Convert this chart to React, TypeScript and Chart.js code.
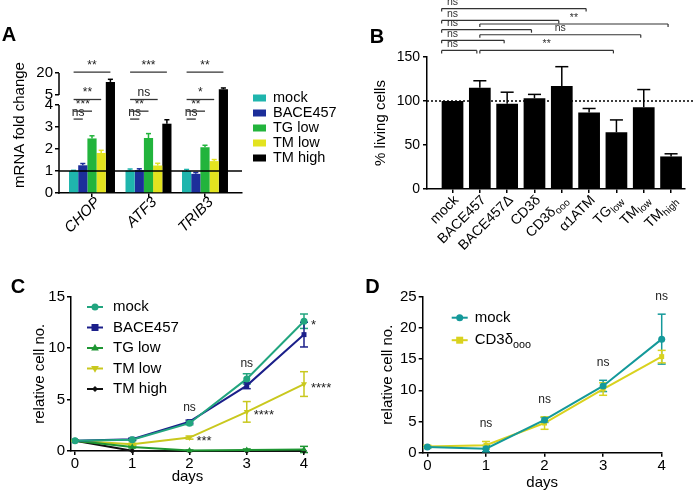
import React, { useEffect, useRef } from 'react';
import { Chart, registerables, LinearScale } from 'chart.js';

Chart.register(...registerables);

// ---------------- data ----------------
// Panel A
const aGenes = ['CHOP', 'ATF3', 'TRIB3'];
const aSeries = ['mock', 'BACE457', 'TG low', 'TM low', 'TM high'];
const aMock = [1.0, 1.02, 1.0];
const aBace = [1.26, 1.04, 0.87];
const aTgLow = [2.48, 2.5, 2.08];
const aTmLow = [1.82, 1.25, 1.45];
const aTmHigh = [13.9, 3.15, 8.9];
const aMockErr = [0.03, 0.07, 0.07];
const aBaceErr = [0.08, 0.06, 0.06];
const aTgLowErr = [0.12, 0.2, 0.09];
const aTmLowErr = [0.12, 0.1, 0.07];
const aTmHighErr = [1.8, 0.18, 0.9];
const aTicks = [0, 1, 2, 3, 4, 5, 20];
const aSigLabels = [
  ['ns', '***', '**', '**'],
  ['ns', '**', 'ns', '***'],
  ['ns', '**', '*', '**'],
];
const aSigLevels = [3.36, 3.72, 4.55, 20.6];

// Panel B
const bCategories = ['mock', 'BACE457', 'BACE457Δ', 'CD3δ', 'CD3δ_ooo', 'α1ATM', 'TG_low', 'TM_low', 'TM_high'];
const bValues = [100, 115, 97, 103, 117, 87, 64.5, 93, 37];
const bErrors = [0, 8, 13, 4.5, 22, 4.5, 14, 20, 3];
const bPairs = [[0, 1], [0, 2], [0, 3], [0, 4], [0, 5], [1, 6], [1, 7], [1, 8]];
const bPairLabels = ['ns', 'ns', 'ns', 'ns', 'ns', '**', 'ns', '**'];
const bPairLevels = [157.5, 169, 181, 191.6, 205, 157.5, 175.3, 187.5];

// Panel C
const days = [0, 1, 2, 3, 4];
const cSeries = ['mock', 'BACE457', 'TG low', 'TM low', 'TM high'];
const cMock = [1.0, 1.1, 2.7, 7.0, 12.6];
const cBace = [1.0, 1.15, 2.85, 6.35, 11.3];
const cTgLow = [1.0, 0.4, 0.05, 0.1, 0.15];
const cTmLow = [1.0, 0.65, 1.3, 3.8, 6.5];
const cTmHigh = [1.0, 0.02, 0.0, 0.0, 0.0];
const cMockErr = [0.05, 0.1, 0.15, 0.5, 0.7];
const cBaceErr = [0.05, 0.1, 0.15, 0.3, 1.2];
const cTgLowErr = [0.05, 0.1, 0.05, 0.1, 0.3];
const cTmLowErr = [0.05, 0.1, 0.15, 1.0, 1.2];
const cTmHighErr = [0, 0, 0, 0, 0];
const cSigText = ['ns', 'ns', '*', '****', '****', '***'];
const cSigSeries = [0, 0, 0, 3, 3, 3];
const cSigDay = [2, 3, 4, 4, 3, 2];
const cSigSide = ['above', 'above', 'right', 'right', 'right', 'right'];

// Panel D
const dSeries = ['mock', 'CD3δ_ooo'];
const dMock = [0.9, 0.65, 5.25, 10.7, 18.2];
const dCd3 = [1.0, 1.2, 4.75, 10.2, 15.4];
const dMockErr = [0.2, 0.5, 0.4, 0.9, 4.0];
const dCd3Err = [0.2, 0.6, 1.0, 1.0, 1.0];
const dSigText = ['ns', 'ns', 'ns', 'ns'];
const dSigDay = [1, 2, 3, 4];

// ---------------- styles ----------------
const FAMILY = "'Liberation Sans', Arial, Helvetica, sans-serif";
Chart.defaults.font.family = FAMILY;
Chart.defaults.color = '#000';

const A_COLORS = ['#1fb5ad', '#1c2e9a', '#22b43c', '#e3e31f', '#000000'];
const C_COLORS = ['#22a57f', '#1b1f8a', '#1e9633', '#c9c81e', '#111111'];
const C_POINTS = ['circle', 'rect', 'triangle', 'triangle', 'rectRot'];
const C_ROT = [0, 0, 0, 180, 0];
const C_LEGEND_MARK = ['circle', 'rect', 'triangle', 'triangleDown', 'rectRot'];
const D_COLORS = ['#14999a', '#d9d21e'];
const D_POINTS = ['circle', 'rect'];

// ---------------- broken axis scale (panel A) ----------------
const LOW_FRAC = 88 / 120;
const GAP_FRAC = 10 / 120;
function brokenDecimal(v: number) {
  if (v <= 4) return (v / 4) * LOW_FRAC;
  if (v <= 5) return LOW_FRAC + (v - 4) * GAP_FRAC;
  return LOW_FRAC + GAP_FRAC + ((v - 5) / 15) * (1 - LOW_FRAC - GAP_FRAC);
}
function brokenValue(d: number) {
  if (d <= LOW_FRAC) return (d / LOW_FRAC) * 4;
  if (d <= LOW_FRAC + GAP_FRAC) return 4 + (d - LOW_FRAC) / GAP_FRAC;
  return 5 + ((d - LOW_FRAC - GAP_FRAC) / (1 - LOW_FRAC - GAP_FRAC)) * 15;
}
class BrokenScale extends LinearScale {
  static id = 'broken';
  static defaults = {};
  getPixelForValue(value: number) {
    return this.getPixelForDecimal(brokenDecimal(value));
  }
  getValueForPixel(pixel: number) {
    return brokenValue(this.getDecimalForPixel(pixel));
  }
}
Chart.register(BrokenScale as any);

// ---------------- helpers ----------------
function fontStr(size: number, weight = 'normal', style = 'normal') {
  return `${style} ${weight} ${size}px ${FAMILY}`;
}
function seg(ctx: CanvasRenderingContext2D, x1: number, y1: number, x2: number, y2: number) {
  ctx.beginPath();
  ctx.moveTo(x1, y1);
  ctx.lineTo(x2, y2);
  ctx.stroke();
}
function drawRich(ctx: CanvasRenderingContext2D, s: string, x: number, y: number, size: number, align: string, style = 'normal') {
  const [base, sub] = s.split('_');
  const subSize = size * 0.72;
  ctx.font = fontStr(size, 'normal', style);
  const wb = ctx.measureText(base).width;
  let ws = 0;
  if (sub) {
    ctx.font = fontStr(subSize, 'normal', style);
    ws = ctx.measureText(sub).width;
  }
  const total = wb + ws;
  const x0 = align === 'right' ? x - total : align === 'center' ? x - total / 2 : x;
  ctx.textAlign = 'left';
  ctx.font = fontStr(size, 'normal', style);
  ctx.fillText(base, x0, y);
  if (sub) {
    ctx.font = fontStr(subSize, 'normal', style);
    ctx.fillText(sub, x0 + wb, y + size * 0.3);
  }
}
function drawRotatedLabels(chart: any, labels: string[], size: number, style: string, dx: number, dy: number) {
  const { ctx, chartArea: ca } = chart;
  const xs = chart.scales.x;
  ctx.save();
  ctx.fillStyle = '#000';
  labels.forEach((lab, i) => {
    const x = xs.getPixelForValue(i);
    ctx.save();
    ctx.translate(x + dx, ca.bottom + dy);
    ctx.rotate(-Math.PI / 4);
    ctx.textBaseline = 'middle';
    drawRich(ctx, lab, 0, 0, size, 'right', style);
    ctx.restore();
  });
  ctx.restore();
}
function drawMarker(ctx: CanvasRenderingContext2D, style: string, x: number, y: number, r: number, color: string) {
  ctx.save();
  ctx.fillStyle = color;
  ctx.beginPath();
  if (style === 'circle') ctx.arc(x, y, r, 0, Math.PI * 2);
  else if (style === 'rect') ctx.rect(x - r, y - r, 2 * r, 2 * r);
  else if (style === 'triangle') {
    ctx.moveTo(x, y - r * 1.2);
    ctx.lineTo(x + r * 1.1, y + r * 0.7);
    ctx.lineTo(x - r * 1.1, y + r * 0.7);
    ctx.closePath();
  } else if (style === 'triangleDown') {
    ctx.moveTo(x, y + r * 1.2);
    ctx.lineTo(x + r * 1.1, y - r * 0.7);
    ctx.lineTo(x - r * 1.1, y - r * 0.7);
    ctx.closePath();
  } else {
    ctx.moveTo(x, y - r);
    ctx.lineTo(x + r, y);
    ctx.lineTo(x, y + r);
    ctx.lineTo(x - r, y);
    ctx.closePath();
  }
  ctx.fill();
  ctx.restore();
}
function drawErrors(chart: any, upOnly: boolean, capFrac: number, capPx: number) {
  const { ctx } = chart;
  const ys = chart.scales.y;
  chart.data.datasets.forEach((ds: any, i: number) => {
    if (!ds.errors) return;
    const meta = chart.getDatasetMeta(i);
    ctx.save();
    ctx.strokeStyle = ds.errorColor;
    ctx.lineWidth = 1.5;
    meta.data.forEach((el: any, j: number) => {
      const e = ds.errors[j];
      if (!e) return;
      const v = ds.data[j].y;
      const top = ys.getPixelForValue(v + e);
      const bottom = upOnly ? el.y : ys.getPixelForValue(Math.max(v - e, -0.3));
      const half = (capFrac ? el.width * capFrac : capPx) / 2;
      seg(ctx, el.x, bottom, el.x, top);
      seg(ctx, el.x - half, top, el.x + half, top);
      if (!upOnly) seg(ctx, el.x - half, bottom, el.x + half, bottom);
    });
    ctx.restore();
  });
}
function panelLetter(ctx: CanvasRenderingContext2D, s: string, x: number, y: number) {
  ctx.save();
  ctx.fillStyle = '#000';
  ctx.font = fontStr(20, 'bold');
  ctx.textAlign = 'center';
  ctx.textBaseline = 'middle';
  ctx.fillText(s, x, y);
  ctx.restore();
}
const axisGrid = () => ({ display: true, drawOnChartArea: false, drawTicks: true, tickLength: 4, color: '#000', lineWidth: 1.5, offset: false });
const axisBorder = () => ({ display: true, color: '#000', width: 1.5 });
const baseOptions = (padding: any) => ({
  responsive: false,
  animation: false,
  devicePixelRatio: 1,
  events: [],
  layout: { padding },
  plugins: { legend: { display: false }, tooltip: { enabled: false } },
});

// ---------------- Panel A ----------------
const aValues = [aMock, aBace, aTgLow, aTmLow, aTmHigh];
const aErrors = [aMockErr, aBaceErr, aTgLowErr, aTmLowErr, aTmHighErr];

const aPlugin = {
  id: 'aExtras',
  beforeDatasetsDraw(chart: any) {
    drawErrors(chart, true, 0.55, 0);
  },
  afterDraw(chart: any) {
    const { ctx, chartArea: ca } = chart;
    const ys = chart.scales.y;
    ctx.save();
    ctx.strokeStyle = '#000';
    ctx.lineWidth = 1.5;
    // broken y axis
    seg(ctx, ca.left, ys.getPixelForValue(0) + 0.75, ca.left, ys.getPixelForValue(4));
    seg(ctx, ca.left, ys.getPixelForValue(5), ca.left, ys.getPixelForValue(20));
    // reference line at 1
    seg(ctx, ca.left, ys.getPixelForValue(1), ca.right, ys.getPixelForValue(1));
    // brackets
    ctx.strokeStyle = '#333';
    ctx.lineWidth = 1.3;
    ctx.fillStyle = '#222';
    ctx.font = fontStr(12);
    ctx.textAlign = 'center';
    ctx.textBaseline = 'bottom';
    aGenes.forEach((_, gi) => {
      const x0 = chart.getDatasetMeta(0).data[gi].x;
      for (let k = 1; k < aSeries.length; k++) {
        const x1 = chart.getDatasetMeta(k).data[gi].x;
        const yy = ys.getPixelForValue(aSigLevels[k - 1]);
        seg(ctx, x0, yy, x1, yy);
        ctx.fillText(aSigLabels[gi][k - 1], (x0 + x1) / 2, yy - 0.5);
      }
    });
    // y title
    ctx.save();
    ctx.translate(20, 125);
    ctx.rotate(-Math.PI / 2);
    ctx.fillStyle = '#000';
    ctx.font = fontStr(15);
    ctx.textAlign = 'center';
    ctx.textBaseline = 'middle';
    ctx.fillText('mRNA fold change', 0, 0);
    ctx.restore();
    // legend
    ctx.textAlign = 'left';
    ctx.textBaseline = 'middle';
    aSeries.forEach((name, k) => {
      const y = ca.top + 25 + k * 15;
      ctx.fillStyle = A_COLORS[k];
      ctx.fillRect(ca.right + 11, y - 3.5, 13, 7);
      ctx.fillStyle = '#000';
      ctx.font = fontStr(14.5);
      ctx.fillText(name, ca.right + 31, y);
    });
    ctx.restore();
    // italic rotated gene labels
    drawRotatedLabels(chart, aGenes, 15, 'italic', 6, 7);
    panelLetter(ctx, 'A', 9, 35);
  },
};

function makeA(canvas: HTMLCanvasElement) {
  return new Chart(canvas, {
    type: 'bar',
    data: {
      datasets: aSeries.map((name, k) => ({
        label: name,
        data: aGenes.map((_, i) => ({ x: i, y: aValues[k][i] })),
        backgroundColor: A_COLORS[k],
        borderWidth: 0,
        barPercentage: 1,
        categoryPercentage: 0.814,
        errors: aErrors[k],
        errorColor: A_COLORS[k],
      })),
    } as any,
    options: {
      ...baseOptions({ left: 0, top: 73, right: 451, bottom: 0 }),
      scales: {
        x: {
          type: 'linear',
          min: -0.584,
          max: 2.655,
          offset: false,
          afterBuildTicks: (s: any) => { s.ticks = aGenes.map((_, i) => ({ value: i })); },
          afterFit: (s: any) => { s.height = 300; },
          ticks: { display: false },
          grid: axisGrid(),
          border: axisBorder(),
        },
        y: {
          type: 'broken',
          min: 0,
          max: 20,
          afterBuildTicks: (s: any) => { s.ticks = aTicks.map((v) => ({ value: v })); },
          afterFit: (s: any) => { s.width = 59; },
          ticks: { autoSkip: false, padding: 2, font: { size: 15 }, callback: (v: any) => String(v) },
          grid: axisGrid(),
          border: { display: false },
        },
      },
    } as any,
    plugins: [aPlugin],
  });
}

// ---------------- Panel B ----------------
const bPlugin = {
  id: 'bExtras',
  beforeDatasetsDraw(chart: any) {
    drawErrors(chart, true, 0.6, 0);
  },
  afterDraw(chart: any) {
    const { ctx, chartArea: ca } = chart;
    const ys = chart.scales.y;
    ctx.save();
    // dotted 100% line
    ctx.strokeStyle = '#000';
    ctx.lineWidth = 1.5;
    ctx.setLineDash([2, 2]);
    seg(ctx, ca.left, ys.getPixelForValue(100), chart.width, ys.getPixelForValue(100));
    ctx.setLineDash([]);
    // significance brackets
    const meta = chart.getDatasetMeta(0);
    ctx.strokeStyle = '#333';
    ctx.lineWidth = 1.2;
    ctx.fillStyle = '#333';
    ctx.font = fontStr(10.5);
    ctx.textAlign = 'center';
    ctx.textBaseline = 'bottom';
    bPairs.forEach(([a, b], k) => {
      const ea = meta.data[a];
      const eb = meta.data[b];
      const x1 = a === 0 ? ea.x - ea.width / 2 : ea.x;
      const x2 = eb.x - 3;
      const yy = ys.getPixelForValue(bPairLevels[k]);
      seg(ctx, x1, yy, x2, yy);
      seg(ctx, x1, yy, x1, yy + 3);
      seg(ctx, x2, yy, x2, yy + 3);
      const lx = a === 0 ? ea.x : (x1 + x2) / 2;
      ctx.fillText(bPairLabels[k], lx, yy - 1);
    });
    ctx.restore();
    // rotated category labels with subscripts
    drawRotatedLabels(chart, bCategories, 14, 'normal', 4, 9);
    panelLetter(ctx, 'B', 377, 37);
  },
};

function makeB(canvas: HTMLCanvasElement) {
  return new Chart(canvas, {
    type: 'bar',
    data: {
      datasets: [{
        label: '% living cells',
        data: bCategories.map((_, i) => ({ x: i, y: bValues[i] })),
        backgroundColor: '#000',
        borderWidth: 0,
        barPercentage: 0.795,
        categoryPercentage: 1,
        errors: bErrors,
        errorColor: '#000',
      }],
    } as any,
    options: {
      ...baseOptions({ left: 360, top: 57, right: 8, bottom: 0 }),
      scales: {
        x: {
          type: 'linear',
          min: -0.934,
          max: 8.51,
          offset: false,
          afterBuildTicks: (s: any) => { s.ticks = bCategories.map((_, i) => ({ value: i })); },
          afterFit: (s: any) => { s.height = 304; },
          ticks: { display: false },
          grid: axisGrid(),
          border: axisBorder(),
        },
        y: {
          type: 'linear',
          min: 0,
          max: 150,
          afterFit: (s: any) => { s.width = 67; },
          ticks: { stepSize: 50, padding: 3, font: { size: 14 } },
          grid: axisGrid(),
          border: axisBorder(),
          title: { display: true, text: '% living cells', font: { size: 15 }, padding: { top: 12, bottom: 0 } },
        },
      },
    } as any,
    plugins: [bPlugin],
  });
}

// ---------------- Panel C ----------------
const cValues = [cMock, cBace, cTgLow, cTmLow, cTmHigh];
const cErrors = [cMockErr, cBaceErr, cTgLowErr, cTmLowErr, cTmHighErr];

const cPlugin = {
  id: 'cExtras',
  beforeDatasetsDraw(chart: any) {
    drawErrors(chart, false, 0, 8);
  },
  afterDraw(chart: any) {
    const { ctx, chartArea: ca } = chart;
    ctx.save();
    // legend
    cSeries.forEach((name, k) => {
      const y = ca.top + 10.5 + k * 20.5;
      const mx = ca.left + 24;
      ctx.strokeStyle = C_COLORS[k];
      ctx.lineWidth = 2;
      seg(ctx, mx - 8, y, mx + 8, y);
      drawMarker(ctx, C_LEGEND_MARK[k], mx, y, k === 4 ? 3 : 3.5, C_COLORS[k]);
      ctx.fillStyle = '#000';
      ctx.font = fontStr(15);
      ctx.textAlign = 'left';
      ctx.textBaseline = 'middle';
      ctx.fillText(name, ca.left + 42, y);
    });
    // significance labels
    ctx.fillStyle = '#222';
    cSigText.forEach((t, i) => {
      const el = chart.getDatasetMeta(cSigSeries[i]).data[cSigDay[i]];
      ctx.textBaseline = 'alphabetic';
      if (cSigSide[i] === 'above') {
        ctx.font = fontStr(12);
        ctx.textAlign = 'center';
        ctx.fillText(t, el.x, el.y - 12);
      } else {
        ctx.font = fontStr(13);
        ctx.textAlign = 'left';
        ctx.fillText(t, el.x + 7, el.y + 7.5);
      }
    });
    ctx.restore();
    panelLetter(ctx, 'C', 18, 287);
  },
};

function makeC(canvas: HTMLCanvasElement) {
  return new Chart(canvas, {
    type: 'line',
    data: {
      datasets: cSeries.map((name, k) => ({
        label: name,
        data: days.map((d, i) => ({ x: d, y: cValues[k][i] })),
        borderColor: C_COLORS[k],
        backgroundColor: C_COLORS[k],
        borderWidth: 2,
        pointStyle: C_POINTS[k],
        pointRotation: C_ROT[k],
        pointRadius: k === 4 ? 3 : 3.5,
        pointBorderWidth: 0,
        tension: 0,
        clip: false,
        errors: cErrors[k],
        errorColor: C_COLORS[k],
      })),
    } as any,
    options: {
      ...baseOptions({ left: 0, top: 296.5, right: 389, bottom: 0 }),
      scales: {
        x: {
          type: 'linear',
          min: -0.07,
          max: 4,
          afterBuildTicks: (s: any) => { s.ticks = days.map((v) => ({ value: v })); },
          afterFit: (s: any) => { s.height = 42; },
          ticks: { autoSkip: false, maxRotation: 0, padding: 0, font: { size: 15 }, callback: (v: any) => String(v) },
          grid: axisGrid(),
          border: axisBorder(),
          title: { display: true, text: 'days', font: { size: 15 }, padding: { top: 0, bottom: 7 } },
        },
        y: {
          type: 'linear',
          min: 0,
          max: 15,
          afterFit: (s: any) => { s.width = 71; },
          ticks: { stepSize: 5, padding: 2, font: { size: 15 } },
          grid: axisGrid(),
          border: axisBorder(),
          title: { display: true, text: 'relative cell no.', font: { size: 15 }, padding: { top: 31, bottom: 0 } },
        },
      },
    } as any,
    plugins: [cPlugin],
  });
}

// ---------------- Panel D ----------------
const dValues = [dMock, dCd3];
const dErrors = [dMockErr, dCd3Err];

const dPlugin = {
  id: 'dExtras',
  beforeDatasetsDraw(chart: any) {
    drawErrors(chart, false, 0, 8);
  },
  afterDraw(chart: any) {
    const { ctx, chartArea: ca } = chart;
    const ys = chart.scales.y;
    ctx.save();
    // legend
    dSeries.forEach((name, k) => {
      const y = ca.top + 21 + k * 22.5;
      const mx = ca.left + 37;
      ctx.strokeStyle = D_COLORS[k];
      ctx.lineWidth = 2;
      seg(ctx, mx - 8, y, mx + 8, y);
      drawMarker(ctx, D_POINTS[k], mx, y, 3.5, D_COLORS[k]);
      ctx.fillStyle = '#000';
      ctx.textBaseline = 'middle';
      drawRich(ctx, name, ca.left + 52, y, 15, 'left');
    });
    // ns labels above each day
    ctx.fillStyle = '#222';
    ctx.font = fontStr(12);
    ctx.textAlign = 'center';
    ctx.textBaseline = 'alphabetic';
    dSigText.forEach((t, i) => {
      const d = dSigDay[i];
      let top = Infinity;
      let x = 0;
      chart.data.datasets.forEach((ds: any, k: number) => {
        const el = chart.getDatasetMeta(k).data[d];
        x = el.x;
        top = Math.min(top, ys.getPixelForValue(ds.data[d].y + (ds.errors[d] || 0)));
      });
      ctx.fillText(t, x, top - 14);
    });
    ctx.restore();
    panelLetter(ctx, 'D', 372.5, 287);
  },
};

function makeD(canvas: HTMLCanvasElement) {
  return new Chart(canvas, {
    type: 'line',
    data: {
      datasets: dSeries.map((name, k) => ({
        label: name,
        data: days.map((d, i) => ({ x: d, y: dValues[k][i] })),
        borderColor: D_COLORS[k],
        backgroundColor: D_COLORS[k],
        borderWidth: 2,
        pointStyle: D_POINTS[k],
        pointRadius: 3.5,
        pointBorderWidth: 0,
        tension: 0,
        clip: false,
        errors: dErrors[k],
        errorColor: D_COLORS[k],
      })),
    } as any,
    options: {
      ...baseOptions({ left: 345, top: 296.7, right: 31.3, bottom: 0 }),
      scales: {
        x: {
          type: 'linear',
          min: -0.08,
          max: 4,
          afterBuildTicks: (s: any) => { s.ticks = days.map((v) => ({ value: v })); },
          afterFit: (s: any) => { s.height = 40.3; },
          ticks: { autoSkip: false, maxRotation: 0, padding: 0, font: { size: 15 }, callback: (v: any) => String(v) },
          grid: axisGrid(),
          border: axisBorder(),
          title: { display: true, text: 'days', font: { size: 15 }, padding: { top: 0, bottom: 1 } },
        },
        y: {
          type: 'linear',
          min: 0,
          max: 25,
          afterFit: (s: any) => { s.width = 77.7; },
          ticks: { stepSize: 5, padding: 2, font: { size: 15 } },
          grid: axisGrid(),
          border: axisBorder(),
          title: { display: true, text: 'relative cell no.', font: { size: 15 }, padding: { top: 34, bottom: 0 } },
        },
      },
    } as any,
    plugins: [dPlugin],
  });
}

// ---------------- components ----------------
function ChartCanvas({ make }: { make: (c: HTMLCanvasElement) => Chart }) {
  const ref = useRef<HTMLCanvasElement>(null);
  useEffect(() => {
    const chart = make(ref.current as HTMLCanvasElement);
    return () => chart.destroy();
  }, [make]);
  return (
    <canvas
      ref={ref}
      width={693}
      height={493}
      style={{ position: 'absolute', left: 0, top: 0, width: 693, height: 493 }}
    />
  );
}

export default function App() {
  return (
    <div style={{ position: 'absolute', left: 0, top: 0, width: 693, height: 493, background: '#fff', overflow: 'hidden' }}>
      <ChartCanvas make={makeA} />
      <ChartCanvas make={makeB} />
      <ChartCanvas make={makeC} />
      <ChartCanvas make={makeD} />
    </div>
  );
}
